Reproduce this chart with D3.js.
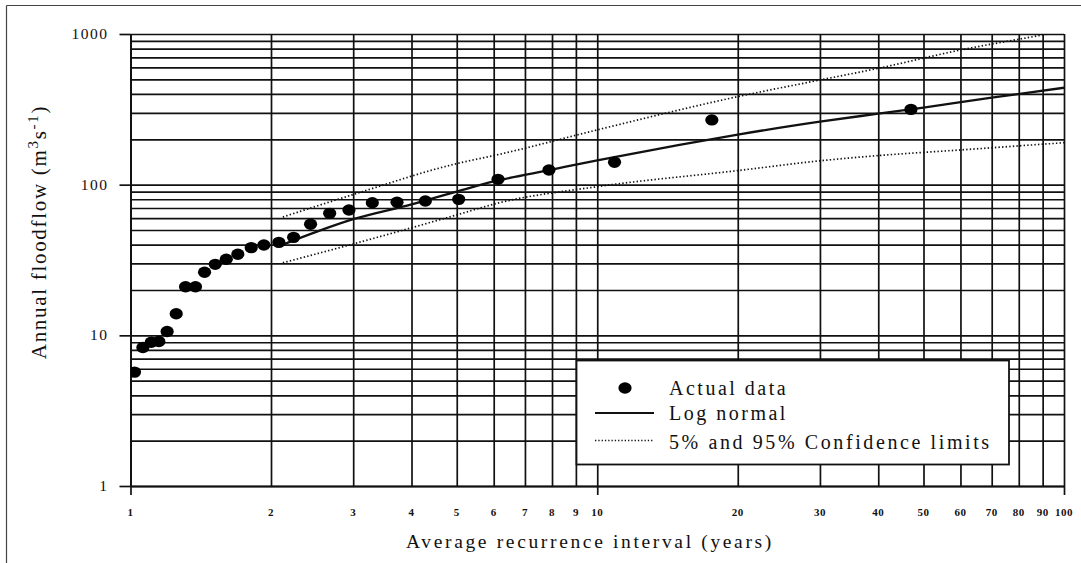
<!DOCTYPE html>
<html><head><meta charset="utf-8">
<script src="https://cdn.jsdelivr.net/npm/d3@7"></script>
<style>body{margin:0;background:#fff} svg{display:block}</style>
</head><body><svg id="c" width="1081" height="563"></svg>
<script>
// ---- data ----
const xTicks = [1,2,3,4,5,6,7,8,9,10,20,30,40,50,60,70,80,90,100];
const xMajor = [1,10,100];
const yGrid = [1,2,3,4,5,6,7,8,9,10,20,30,40,50,60,70,80,90,100,200,300,400,500,600,700,800,900,1000];
const yLabels = [1,10,100,1000];
const recurrence = [1.02,1.063,1.108,1.15,1.198,1.253,1.312,1.378,1.441,1.519,1.604,1.698,1.814,1.931,2.079,2.236,2.431,2.671,2.938,3.297,3.724,4.283,5.048,6.13,7.88,10.89,17.6,47.0];
const floodflow  = [5.7,8.3,9.0,9.1,10.6,13.9,21.0,21.0,26.2,29.6,32.0,34.5,38.2,39.8,41.4,44.7,54.6,64.5,67.9,75.9,76.4,77.9,79.9,108.5,125,141,269,316];
const fitT = [2.12,2.5,3,4,5,6,8,10,15,20,30,40,50,70,100];
const fitQ = [40,48.6,59,74,90,105,126,145,184,215,262,296,325,378,440];
const upperT = [2.12,3,5,6.17,10,20,30,40,60,90,100];
const upperQ = [61,86,138,159,231,384,495,592,783,985,1045];
const lowerT = [2.12,3,5,6.08,10,20,30,40,60,100];
const lowerQ = [30.3,40.4,63,75,97,124,144,156,170,190];
const legendLabels = ["Actual data","Log normal","5% and 95% Confidence limits"];
const xTitle = "Average recurrence interval (years)";

// ---- chart ----
const svg = d3.select("#c");
const L=130.5, R=1064, T=34, B=486;
const x = d3.scaleLog().domain([1,100]).range([L,R]);
const y = d3.scaleLog().domain([1,1000]).range([B,T]);
const ink = "#111";
const serif = "'Liberation Serif','Times New Roman',serif";

// outer frame (left + top)
svg.append("line").attr("x1",6.5).attr("x2",6.5).attr("y1",5.5).attr("y2",563).attr("stroke","#444").attr("stroke-width",1.2);
svg.append("line").attr("x1",6.5).attr("x2",1081).attr("y1",5.5).attr("y2",5.5).attr("stroke","#444").attr("stroke-width",1.2);

// grid
const g = svg.append("g");
g.append("g").attr("transform",`translate(0,${B})`)
  .call(d3.axisBottom(x).tickValues(xTicks).tickSize(-(B-T)).tickFormat(""))
  .call(s=>{s.select(".domain").remove(); s.selectAll("line").attr("stroke",ink).attr("stroke-width",1.7);});
g.append("g").attr("transform",`translate(${L},0)`)
  .call(d3.axisLeft(y).tickValues(yGrid).tickSize(-(R-L)).tickFormat(""))
  .call(s=>{s.select(".domain").remove(); s.selectAll("line").attr("stroke",ink).attr("stroke-width",1.7);});

// major outward ticks
g.append("g").attr("transform",`translate(0,${B})`)
  .call(d3.axisBottom(x).tickValues(xMajor).tickSize(9).tickSizeOuter(0).tickFormat(""))
  .call(s=>{s.select(".domain").attr("stroke",ink).attr("stroke-width",1.9); s.selectAll("line").attr("stroke",ink).attr("stroke-width",1.7);});
g.append("g").attr("transform",`translate(${L},0)`)
  .call(d3.axisLeft(y).tickValues(yLabels).tickSize(11).tickSizeOuter(0).tickFormat(""))
  .call(s=>{s.select(".domain").attr("stroke",ink).attr("stroke-width",1.9); s.selectAll("line").attr("stroke",ink).attr("stroke-width",1.7);});

// x tick labels
svg.append("g").selectAll("text").data(xTicks).join("text")
  .attr("x",d=>x(d)).attr("y",515.5).attr("text-anchor","middle")
  .attr("font-family",serif).attr("font-weight","bold").attr("font-size",11).attr("letter-spacing",0.5)
  .attr("fill",ink).text(d=>d);
// y tick labels
svg.append("g").selectAll("text").data(yLabels).join("text")
  .attr("x",108.5).attr("y",d=>y(d)+5).attr("text-anchor","end")
  .attr("font-family",serif).attr("font-size",15.5).attr("letter-spacing",1.5)
  .attr("fill",ink).text(d=>d);

// axis titles
svg.append("text").attr("x",590).attr("y",548).attr("text-anchor","middle")
  .attr("font-family",serif).attr("font-size",19.5).attr("letter-spacing",2.65).attr("fill",ink).text(xTitle);
const yt = svg.append("text").attr("transform","translate(46,232) rotate(-90)").attr("text-anchor","middle")
  .attr("font-family",serif).attr("font-size",21).attr("letter-spacing",1.7).attr("fill",ink);
yt.append("tspan").text("Annual floodflow (m");
yt.append("tspan").attr("dy",-8).attr("font-size",15).text("3");
yt.append("tspan").attr("dy",8).text("s");
yt.append("tspan").attr("dy",-8).attr("font-size",15).text("-1");
yt.append("tspan").attr("dy",8).text(")");

// clip
svg.append("clipPath").attr("id","pc").append("rect").attr("x",L).attr("y",T).attr("width",R-L).attr("height",B-T);
const plot = svg.append("g").attr("clip-path","url(#pc)");
const line = d3.line().x(d=>x(d[0])).y(d=>y(d[1])).curve(d3.curveMonotoneX);
plot.append("path").datum(upperT.map((t,i)=>[t,upperQ[i]])).attr("d",line)
  .attr("fill","none").attr("stroke",ink).attr("stroke-width",1.7).attr("stroke-dasharray","1.4,2.2");
plot.append("path").datum(lowerT.map((t,i)=>[t,lowerQ[i]])).attr("d",line)
  .attr("fill","none").attr("stroke",ink).attr("stroke-width",1.7).attr("stroke-dasharray","1.4,2.2");
plot.append("path").datum(fitT.map((t,i)=>[t,fitQ[i]])).attr("d",line)
  .attr("fill","none").attr("stroke",ink).attr("stroke-width",2.3);
plot.append("g").selectAll("ellipse").data(recurrence.map((t,i)=>[t,floodflow[i]])).join("ellipse")
  .attr("cx",d=>x(d[0])).attr("cy",d=>y(d[1])).attr("rx",6.6).attr("ry",5.7).attr("fill","#000");

// legend
const lg = svg.append("g");
lg.append("rect").attr("x",576.5).attr("y",360.5).attr("width",432.5).attr("height",104)
  .attr("fill","#fff").attr("stroke",ink).attr("stroke-width",1.8);
lg.append("ellipse").attr("cx",625).attr("cy",388).attr("rx",6.6).attr("ry",5.8).attr("fill","#000");
lg.append("line").attr("x1",595).attr("x2",654).attr("y1",413).attr("y2",413).attr("stroke",ink).attr("stroke-width",2.2);
lg.append("line").attr("x1",595).attr("x2",654).attr("y1",440.5).attr("y2",440.5).attr("stroke",ink).attr("stroke-width",1.4).attr("stroke-dasharray","1.3,2");
const lby = [394.5,419.5,448.5];
lg.selectAll("text").data(legendLabels).join("text")
  .attr("x",669).attr("y",(d,i)=>lby[i]).attr("font-family",serif).attr("font-size",20)
  .attr("letter-spacing",(d,i)=>i===2?2.6:2.5).attr("fill",ink).text(d=>d);
</script></body></html>
